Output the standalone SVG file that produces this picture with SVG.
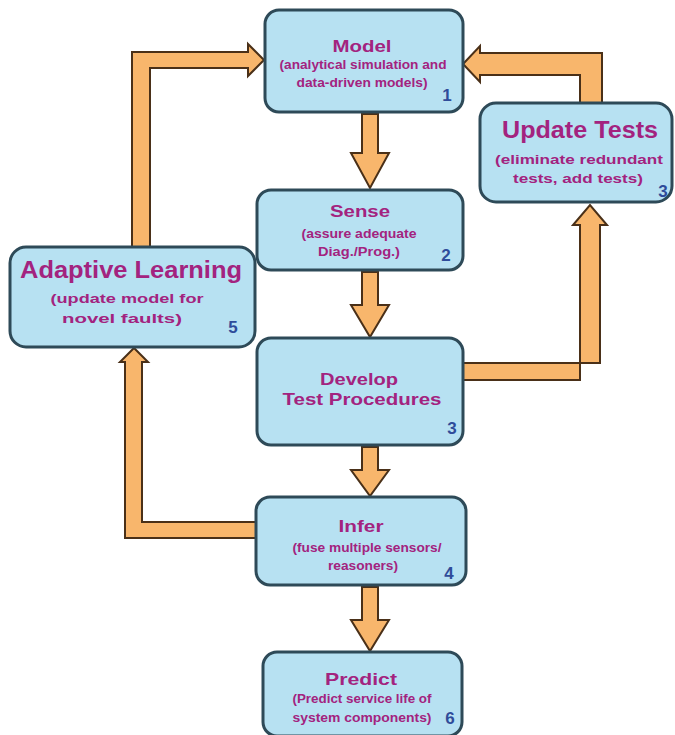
<svg xmlns="http://www.w3.org/2000/svg" width="675" height="735" viewBox="0 0 675 735">
<style>
.box{fill:#B7E1F2;stroke:#2E4A58;stroke-width:3}
.arr{fill:#F8B66C;stroke:#4A3018;stroke-width:2;stroke-linejoin:miter}
.t{font-family:"Liberation Sans",Arial,sans-serif;font-weight:bold;fill:#A3237F;text-anchor:middle}
.n{font-family:"Liberation Sans",Arial,sans-serif;font-weight:bold;fill:#2F4C9A;font-size:17px;text-anchor:middle}
</style>
<rect width="675" height="735" fill="#ffffff"/>
<g id="connectors">
<polygon class="arr" points="132,249 132,52 248,52 248,44 264,60 248,76 248,68 150,68 150,249"/>
<polygon class="arr" points="602,105 602,53 480,53 480,46 463,64 480,82 480,75 580,75 580,105"/>
<polygon class="arr" points="461,363 600,363 600,225 607,225 590,205 573,225 580,225 580,380 461,380"/>
<polygon class="arr" points="257,538 125,538 125,362 120,362 134,348 148,362 142,362 142,522 257,522"/>
<polygon class="arr" points="362,114 362,153 351,153 370,188 389,153 378,153 378,114"/>
<polygon class="arr" points="362,272 362,305 351,305 370,337 389,305 378,305 378,272"/>
<polygon class="arr" points="362,447 362,470 351,470 370,496 389,470 378,470 378,447"/>
<polygon class="arr" points="362,587 362,620 351,620 370,651 389,620 378,620 378,587"/>
</g>
<g id="model">
<rect class="box" x="265" y="10" width="198" height="102" rx="14"/>
<text class="t" x="362" y="52" font-size="17" textLength="59" lengthAdjust="spacingAndGlyphs">Model</text>
<text class="t" x="363" y="69" font-size="12.5" textLength="167" lengthAdjust="spacingAndGlyphs">(analytical simulation and</text>
<text class="t" x="362" y="87" font-size="12.5" textLength="131" lengthAdjust="spacingAndGlyphs">data-driven models)</text>
<text class="n" x="447" y="101">1</text>
</g>
<g id="update-tests">
<rect class="box" x="480" y="103" width="192" height="99" rx="16"/>
<text class="t" x="580" y="138" font-size="23" textLength="156" lengthAdjust="spacingAndGlyphs">Update Tests</text>
<text class="t" x="579" y="164" font-size="13" textLength="168" lengthAdjust="spacingAndGlyphs">(eliminate redundant</text>
<text class="t" x="578" y="183" font-size="13" textLength="130" lengthAdjust="spacingAndGlyphs">tests, add tests)</text>
<text class="n" x="663" y="197">3</text>
</g>
<g id="sense">
<rect class="box" x="257" y="190" width="206" height="80" rx="14"/>
<text class="t" x="360" y="217" font-size="17" textLength="60" lengthAdjust="spacingAndGlyphs">Sense</text>
<text class="t" x="359" y="238" font-size="12" textLength="115" lengthAdjust="spacingAndGlyphs">(assure adequate</text>
<text class="t" x="359" y="256" font-size="12" textLength="82" lengthAdjust="spacingAndGlyphs">Diag./Prog.)</text>
<text class="n" x="446" y="261">2</text>
</g>
<g id="adaptive-learning">
<rect class="box" x="10" y="247" width="245" height="100" rx="16"/>
<text class="t" x="131" y="278" font-size="23" textLength="222" lengthAdjust="spacingAndGlyphs">Adaptive Learning</text>
<text class="t" x="127" y="303" font-size="13" textLength="153" lengthAdjust="spacingAndGlyphs">(update model for</text>
<text class="t" x="122" y="323" font-size="13" textLength="120" lengthAdjust="spacingAndGlyphs">novel faults)</text>
<text class="n" x="233" y="333">5</text>
</g>
<g id="develop">
<rect class="box" x="257" y="338" width="206" height="107" rx="14"/>
<text class="t" x="359" y="385" font-size="17" textLength="78" lengthAdjust="spacingAndGlyphs">Develop</text>
<text class="t" x="362" y="405" font-size="17" textLength="159" lengthAdjust="spacingAndGlyphs">Test Procedures</text>
<text class="n" x="452" y="434">3</text>
</g>
<g id="infer">
<rect class="box" x="256" y="497" width="210" height="88" rx="14"/>
<text class="t" x="361" y="532" font-size="17" textLength="45" lengthAdjust="spacingAndGlyphs">Infer</text>
<text class="t" x="367" y="552" font-size="12" textLength="149" lengthAdjust="spacingAndGlyphs">(fuse multiple sensors/</text>
<text class="t" x="363" y="570" font-size="12" textLength="70" lengthAdjust="spacingAndGlyphs">reasoners)</text>
<text class="n" x="449" y="579">4</text>
</g>
<g id="predict">
<rect class="box" x="263" y="652" width="199" height="84" rx="14"/>
<text class="t" x="361" y="685" font-size="17" textLength="72" lengthAdjust="spacingAndGlyphs">Predict</text>
<text class="t" x="362" y="703" font-size="12" textLength="139" lengthAdjust="spacingAndGlyphs">(Predict service life of</text>
<text class="t" x="362" y="722" font-size="12" textLength="139" lengthAdjust="spacingAndGlyphs">system components)</text>
<text class="n" x="450" y="724">6</text>
</g>
</svg>
